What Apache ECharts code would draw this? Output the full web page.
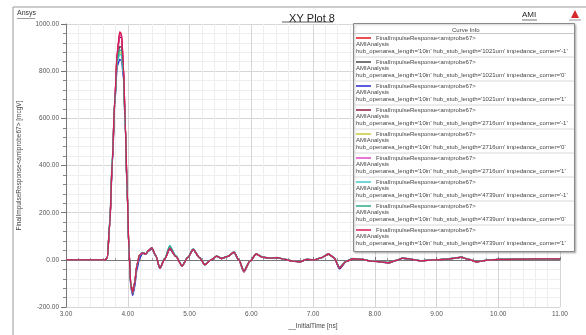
<!DOCTYPE html>
<html>
<head>
<meta charset="utf-8">
<script src="https://cdn.jsdelivr.net/npm/echarts@6/dist/echarts.min.js"></script>
<style>
  html, body { margin: 0; padding: 0; background: #fff; }
  #chart { width: 586px; height: 335px; }
</style>
</head>
<body>
<div id="chart"></div>
<script>
// time axis (ns), shared by all curves
const timeNs = [3.00, 3.50, 3.63, 3.67, 3.71, 3.75, 3.79, 3.83, 3.87, 3.90,
  3.93, 3.96, 3.99, 4.02, 4.05, 4.08, 4.11, 4.15, 4.19, 4.24,
  4.29, 4.34, 4.39, 4.45, 4.52, 4.60, 4.68, 4.78, 4.88, 4.97,
  5.06, 5.16, 5.25, 5.35, 5.44, 5.52, 5.62, 5.72, 5.80, 5.88,
  5.98, 6.08, 6.18, 6.30, 6.42, 6.55, 6.68, 6.78, 6.90, 7.02,
  7.14, 7.25, 7.34, 7.43, 7.54, 7.66, 7.80, 7.95, 8.10, 8.22,
  8.35, 8.45, 8.60, 8.75, 8.95, 9.15, 9.30, 9.40, 9.52, 9.65,
  9.80, 10.00, 10.30, 10.60, 11.00];

// impulse response values, one array per sweep point
const s1021_n1 = [0, 0, 0, 10, 160, 420, 680, 880, 962, 955,
  820, 580, 300, 40, -110, -140, -100, -20, 20, 30,
  25, 40, 50, 20, -35, 5, 50, 15, -25, 10,
  45, 10, -20, 0, 16, 6, 15, 33, 0, -48,
  -5, 25, 12, 8, 10, 2, -5, -8, 2, 0,
  10, 25, 10, -33, -5, 5, 2, -5, -8, -12,
  -2, 8, 2, -4, 0, 3, 8, 12, 2, -8,
  -2, 2, 3, 4, 4];
const s1021_0 = [0, 0, 0, 10, 155, 410, 660, 850, 905, 900,
  800, 570, 295, 40, -105, -130, -95, -18, 20, 30,
  25, 38, 48, 20, -33, 5, 45, 15, -24, 10,
  43, 10, -19, 0, 15, 6, 15, 31, 0, -44,
  -5, 24, 12, 8, 10, 2, -5, -8, 2, 0,
  10, 24, 10, -31, -5, 5, 2, -5, -8, -11,
  -2, 7, 2, -4, 0, 3, 8, 11, 2, -7,
  -2, 2, 3, 4, 4];
const s1021_p1 = [0, 0, 0, 10, 150, 400, 660, 820, 850, 845,
  770, 560, 290, 35, -120, -150, -120, -40, 5, 28,
  24, 38, 47, 18, -36, 4, 47, 14, -26, 9,
  44, 9, -21, 0, 15, 5, 14, 32, -2, -50,
  -6, 24, 11, 7, 9, 1, -6, -9, 1, 0,
  9, 24, 8, -38, -7, 4, 2, -5, -9, -13,
  -3, 7, 1, -4, 0, 3, 7, 11, 1, -8,
  -2, 2, 3, 4, 4];
const s2716_n1 = [0, 0, 0, 10, 158, 418, 675, 875, 945, 940,
  815, 578, 298, 38, -112, -145, -105, -22, 18, 30,
  25, 40, 50, 19, -36, 5, 49, 14, -26, 10,
  45, 10, -21, 0, 16, 6, 15, 33, -1, -52,
  -6, 25, 12, 8, 10, 2, -5, -8, 2, 0,
  10, 26, 9, -36, -6, 5, 2, -5, -8, -12,
  -2, 8, 2, -4, 0, 3, 8, 12, 2, -8,
  -2, 2, 3, 4, 4];
const s2716_0 = [0, 0, 0, 10, 160, 425, 670, 845, 880, 875,
  790, 570, 298, 40, -108, -138, -98, -20, 20, 30,
  25, 40, 50, 20, -34, 6, 52, 15, -25, 10,
  45, 10, -20, 0, 16, 6, 15, 33, 0, -47,
  -5, 25, 12, 8, 10, 2, -5, -8, 2, 0,
  10, 25, 10, -32, -5, 5, 2, -5, -8, -12,
  -2, 8, 2, -4, 0, 3, 8, 12, 2, -8,
  -2, 2, 3, 4, 4];
const s2716_p1 = [0, 0, 0, 10, 160, 420, 680, 878, 955, 948,
  818, 580, 300, 40, -110, -140, -100, -20, 20, 30,
  25, 40, 50, 20, -35, 5, 50, 15, -25, 10,
  45, 10, -20, 0, 16, 6, 15, 33, 0, -48,
  -5, 25, 12, 8, 10, 2, -5, -8, 2, 0,
  10, 25, 10, -33, -5, 5, 2, -5, -8, -12,
  -2, 8, 2, -4, 0, 3, 8, 12, 2, -8,
  -2, 2, 3, 4, 4];
const s4739_n1 = [0, 0, 0, 12, 175, 440, 680, 840, 870, 868,
  785, 565, 290, 36, -112, -142, -102, -22, 18, 32,
  27, 42, 52, 22, -33, 8, 62, 18, -24, 12,
  48, 11, -19, 1, 17, 7, 16, 34, 1, -46,
  -4, 26, 13, 9, 11, 3, -4, -7, 3, 1,
  11, 26, 11, -30, -4, 6, 3, -4, -7, -11,
  -1, 9, 3, -3, 1, 4, 9, 13, 3, -7,
  -1, 3, 3, 4, 4];
const s4739_0 = [0, 0, 0, 11, 168, 430, 675, 850, 890, 885,
  795, 570, 295, 38, -110, -140, -100, -21, 19, 31,
  26, 41, 51, 21, -34, 7, 58, 16, -25, 11,
  46, 10, -20, 0, 16, 6, 15, 33, 0, -47,
  -5, 25, 12, 8, 10, 2, -5, -8, 2, 0,
  10, 25, 10, -32, -5, 5, 2, -5, -8, -12,
  -2, 8, 2, -4, 0, 3, 8, 12, 2, -8,
  -2, 2, 3, 4, 4];
const s4739_p1 = [0, 0, 0, 10, 160, 420, 682, 885, 968, 958,
  822, 582, 302, 42, -108, -138, -100, -20, 20, 30,
  26, 41, 52, 21, -34, 5, 50, 15, -25, 10,
  45, 10, -20, 0, 16, 6, 15, 33, 0, -47,
  -5, 25, 12, 8, 10, 2, -5, -8, 2, 0,
  10, 25, 10, -33, -5, 5, 2, -5, -8, -12,
  -2, 8, 2, -4, 0, 3, 8, 12, 2, -8,
  -2, 2, 3, 4, 4];

const curveValues = [s1021_n1, s1021_0, s1021_p1, s2716_n1, s2716_0, s2716_p1, s4739_n1, s4739_0, s4739_p1];
const stubLengths = ['1021um', '1021um', '1021um', '2716um', '2716um', '2716um', '4739um', '4739um', '4739um'];
const corners = ['-1', '0', '1', '-1', '0', '1', '-1', '0', '1'];
const curveColors = ['#e3141e', '#4a4a4a', '#2626d6', '#8c1c3c', '#c9c93a', '#e048c4', '#46c8cc', '#2faa8e', '#d81c54'];

const yTicks = [-200, 0, 200, 400, 600, 800, 1000];
const xTicks = [3, 4, 5, 6, 7, 8, 9, 10, 11];

const probeLine = 'FinalImpulseResponse<amiprobe67>';
const setupLine = 'AMIAnalysis';
const legendTop = 35;
const legendStep = 24;

const chart = echarts.init(document.getElementById('chart'));

const series = curveValues.map((vals, i) => ({
  name: probeLine + '\n' + setupLine + '\n' +
    "hub_openarea_length='10in' hub_stub_length='" + stubLengths[i] + "' impedance_corner='" + corners[i] + "'",
  type: 'line',
  data: timeNs.map((t, k) => [t, vals[k]]),
  showSymbol: false,
  smooth: 0.25,
  smoothMonotone: 'x',
  lineStyle: { width: 1.3, color: curveColors[i] },
  itemStyle: { color: curveColors[i] },
  z: 2 + i * 0.01
}));

// extra legend lines (2nd and 3rd line of each entry)
const legendExtra = [];
curveValues.forEach((v, i) => {
  const y0 = legendTop + i * legendStep;
  legendExtra.push({
    type: 'text', left: 356, top: y0 + 6, z: 30,
    style: { text: setupLine, fontSize: 6, fill: '#444', fontFamily: 'Liberation Sans' }
  });
  legendExtra.push({
    type: 'text', left: 356, top: y0 + 13, z: 30,
    style: {
      text: "hub_openarea_length='10in' hub_stub_length='" + stubLengths[i] + "' impedance_corner='" + corners[i] + "'",
      fontSize: 6, fill: '#444', fontFamily: 'Liberation Sans'
    }
  });
  if (i > 0) {
    legendExtra.push({
      type: 'line', z: 29,
      shape: { x1: 354, y1: y0 - 2, x2: 574, y2: y0 - 2 },
      style: { stroke: '#d8d8d8', lineWidth: 1 }
    });
  }
});

const option = {
  animation: false,
  textStyle: { fontFamily: 'Liberation Sans' },
  title: {
    text: 'XY Plot 8',
    left: 307,
    top: 8,
    textAlign: 'center',
    textStyle: { fontSize: 11, fontWeight: 'normal', color: '#222', fontFamily: 'Liberation Sans' }
  },
  grid: { left: 66, right: 26, top: 24, bottom: 22 },
  legend: {
    orient: 'vertical',
    left: 356,
    top: legendTop - 1,
    padding: 0,
    z: 30,
    icon: 'rect',
    itemWidth: 15,
    itemHeight: 1.5,
    itemGap: 16,
    selectedMode: false,
    formatter: name => name.split('\n')[0],
    textStyle: { fontSize: 6, color: '#444', lineHeight: 8 },
    data: series.map(s => s.name)
  },
  xAxis: {
    type: 'value',
    min: xTicks[0],
    max: xTicks[xTicks.length - 1],
    interval: 1,
    name: '__InitialTime [ns]',
    nameLocation: 'middle',
    nameGap: 13,
    nameTextStyle: { fontSize: 6.5, color: '#444' },
    axisLine: { lineStyle: { color: '#777' } },
    axisTick: { show: true, inside: true, length: 3, lineStyle: { color: '#777' } },
    minorTick: { show: true, splitNumber: 5, length: 2, lineStyle: { color: '#999' } },
    axisLabel: { fontSize: 6.5, color: '#555', margin: 4, formatter: v => v.toFixed(2) },
    splitLine: { show: true, lineStyle: { color: '#d6d6d6', width: 1 } },
    minorSplitLine: { show: true, lineStyle: { color: '#eeeeee', width: 1 } }
  },
  yAxis: {
    type: 'value',
    min: yTicks[0],
    max: yTicks[yTicks.length - 1],
    interval: 200,
    name: 'FinalImpulseResponse<amiprobe67> [mcgV]',
    nameLocation: 'middle',
    nameGap: 43,
    nameTextStyle: { fontSize: 6.5, color: '#444' },
    axisLine: { show: true, lineStyle: { color: '#777' } },
    axisTick: { show: true, length: 5, lineStyle: { color: '#777' } },
    minorTick: { show: true, splitNumber: 5, length: 3, lineStyle: { color: '#888' } },
    axisLabel: { fontSize: 6.5, color: '#555', margin: 7, formatter: v => v.toFixed(2) },
    splitLine: { show: true, lineStyle: { color: '#d6d6d6', width: 1 } },
    minorSplitLine: { show: true, lineStyle: { color: '#eeeeee', width: 1 } }
  },
  graphic: [
    { type: 'line', shape: { x1: 13, y1: 7, x2: 586, y2: 7 }, style: { stroke: '#9a9a9a', lineWidth: 1 } },
    { type: 'line', shape: { x1: 13, y1: 7, x2: 13, y2: 335 }, style: { stroke: '#9a9a9a', lineWidth: 1 } },
    { type: 'text', left: 17, top: 10, style: { text: 'Ansys', fontSize: 7, fill: '#333', fontFamily: 'Liberation Sans' } },
    { type: 'line', shape: { x1: 17, y1: 18.5, x2: 35, y2: 18.5 }, style: { stroke: '#555', lineWidth: 0.6 } },
    { type: 'line', shape: { x1: 282, y1: 22, x2: 333, y2: 22 }, style: { stroke: '#333', lineWidth: 0.8 } },
    { type: 'text', left: 522, top: 11, style: { text: 'AMI', fontSize: 8, fill: '#222', fontFamily: 'Liberation Sans' } },
    { type: 'line', shape: { x1: 522, y1: 20, x2: 537, y2: 20 }, style: { stroke: '#333', lineWidth: 0.7 } },
    { type: 'polygon', shape: { points: [[575, 10], [571, 18], [579, 18]] }, style: { fill: '#d8262c' } },
    { type: 'line', shape: { x1: 569, y1: 20, x2: 581, y2: 20 }, style: { stroke: '#999', lineWidth: 1 } },
    {
      type: 'rect', z: 20,
      shape: { x: 353.5, y: 23.5, width: 221, height: 228 },
      style: { fill: '#ffffff', stroke: '#8a8a8a', lineWidth: 1, shadowBlur: 2, shadowColor: 'rgba(0,0,0,0.25)', shadowOffsetX: 1, shadowOffsetY: 1 }
    },
    { type: 'text', left: 452, top: 27, z: 30, style: { text: 'Curve Info', fontSize: 6, fill: '#444', fontFamily: 'Liberation Sans' } },
    { type: 'line', z: 29, shape: { x1: 354, y1: 33.5, x2: 574, y2: 33.5 }, style: { stroke: '#c8c8c8', lineWidth: 1 } }
  ].concat(legendExtra),
  series: series
};

chart.setOption(option);
</script>
</body>
</html>
